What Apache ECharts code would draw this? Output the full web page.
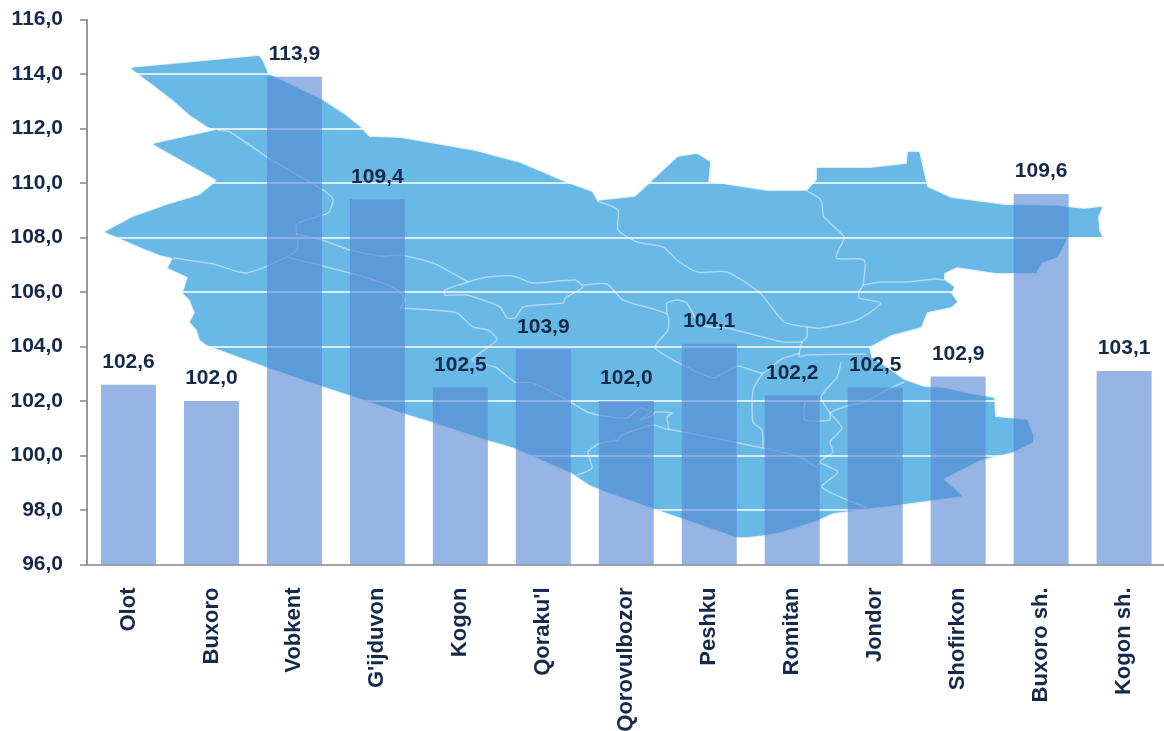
<!DOCTYPE html>
<html>
<head>
<meta charset="utf-8" />
<style>
  html, body { margin: 0; padding: 0; background: #fff; }
  #contenedor-grafico { width: 1164px; height: 731px; }
</style>
<script src="https://cdn.jsdelivr.net/npm/echarts@6/dist/echarts.min.js"></script>
</head>
<body>
<div id="contenedor-grafico"></div>
<script>
const categories = ["Olot", "Buxoro", "Vobkent", "G'ijduvon", "Kogon", "Qoraku'l", "Qorovulbozor", "Peshku", "Romitan", "Jondor", "Shofirkon", "Buxoro sh.", "Kogon sh."];
const values = [102.6, 102.0, 113.9, 109.4, 102.5, 103.9, 102.0, 104.1, 102.2, 102.5, 102.9, 109.6, 103.1];

// backdrop map of the region, in page pixels (decoration, not data)
const mapOutline = [
  [131, 68], [259, 56], [263, 62], [268, 74], [322, 100], [345, 115], [360, 127], [369, 137], [400, 138],
  [475, 151], [520, 163], [567, 183], [592, 192], [597, 201], [635, 197], [678, 157], [697, 154], [710, 162], [708, 182],
  [767, 191], [807, 191], [817, 180], [817, 168], [871, 168], [907, 164], [908, 152], [919, 152], [927, 187],
  [951, 198], [1004, 205], [1057, 206], [1084, 209], [1102, 207], [1098, 217], [1099, 230], [1102, 237],
  [1067, 237], [1064, 245], [1057, 257], [1041, 263], [1036, 273], [997, 273], [957, 267], [944, 273],
  [944, 280], [954, 287], [951, 293], [957, 302], [951, 307], [927, 312], [921, 327], [891, 335], [869, 347],
  [871, 357], [897, 375], [904, 380], [924, 387], [944, 388], [964, 393], [994, 398], [995, 417], [1027, 420],
  [1033, 435], [1033, 442], [1013, 452], [980, 460], [943, 479], [962, 496], [903, 504], [833, 513], [815, 521],
  [780, 532], [765, 535], [747, 537], [737, 537], [682, 518], [653, 508], [607, 492], [590, 485], [572, 473], [515, 448],
  [488, 440], [433, 422], [400, 412], [350, 395], [322, 386], [267, 367], [207, 345], [200, 340], [197, 330],
  [190, 322], [195, 313], [190, 300], [183, 293], [188, 277], [168, 268], [173, 258], [160, 255], [140, 247],
  [117, 237], [105, 232], [133, 217], [167, 205], [200, 195], [212, 185], [217, 180], [153, 144], [217, 130],
  [208, 127], [190, 115], [173, 100]
];
const mapBorders = [
  [[217, 130], [230, 132], [267, 157], [323, 190], [333, 199], [328, 213], [297, 224], [297, 250], [247, 273], [213, 264], [173, 258]],
  [[296, 234], [322, 240], [350, 250], [380, 256], [400, 255], [433, 263], [468, 282]],
  [[468, 282], [445, 290], [445, 295], [467, 295], [500, 307], [507, 318], [515, 318], [523, 307], [563, 303], [565, 298], [583, 287], [575, 280], [533, 283], [513, 276], [487, 277], [468, 282]],
  [[583, 285], [607, 284], [623, 300], [667, 314], [668, 330], [655, 348], [713, 378], [737, 366], [763, 373], [780, 360], [800, 353]],
  [[597, 201], [618, 210], [618, 230], [637, 242], [663, 247], [677, 260], [697, 272], [727, 272], [760, 293], [784, 322], [807, 327], [821, 328], [857, 320], [881, 303], [859, 298], [859, 292], [863, 285], [864, 260], [836, 258], [844, 237], [824, 217], [821, 200], [807, 191]],
  [[863, 285], [881, 282], [907, 282], [934, 279], [944, 280]],
  [[807, 327], [807, 337], [802, 342], [799, 357], [807, 355], [867, 354]],
  [[667, 314], [667, 303], [677, 300], [687, 303], [700, 325], [727, 328], [783, 342], [802, 342]],
  [[841, 362], [837, 377], [821, 397], [830, 413], [842, 428], [830, 442], [833, 452], [820, 462], [838, 472], [822, 487], [867, 508]],
  [[805, 402], [805, 420], [830, 420], [830, 413], [844, 407], [864, 402], [891, 388], [904, 382]],
  [[287, 257], [350, 273], [383, 283], [400, 292], [405, 300], [400, 308]],
  [[400, 308], [433, 310], [457, 313], [473, 327], [488, 330], [497, 340], [472, 360], [495, 367], [515, 382], [533, 383], [567, 400], [590, 413], [627, 418], [640, 408], [650, 412], [640, 420], [653, 415], [655, 412], [672, 413], [667, 417], [668, 429], [653, 425], [622, 435], [617, 440], [600, 443], [588, 452], [592, 468], [577, 475]],
  [[668, 429], [763, 448], [800, 457], [817, 467], [820, 462]],
  [[763, 373], [753, 390], [753, 422], [762, 430], [763, 448]]
];

const colorTexto = "#15294b";
const colorEje = "#868686";

function coma(v) {
  return v.toFixed(1).replace(".", ",");
}

var dom = document.getElementById("contenedor-grafico");
var myChart = echarts.init(dom, null, { renderer: "canvas" });

var graficosMapa = [
  {
    type: "polygon",
    silent: true,
    z: -2,
    shape: { points: mapOutline },
    style: { fill: "#68b9e5", shadowBlur: 2, shadowColor: "#68b9e5" },
  },
];
mapBorders.forEach((linea) => {
  graficosMapa.push({
    type: "polyline",
    silent: true,
    z: -1,
    shape: { points: linea, smooth: 0.2 },
    style: { fill: null, stroke: "rgba(255,255,255,0.45)", lineWidth: 1.5 },
  });
});

var option = {
  animation: false,
  backgroundColor: "#fff",
  graphic: graficosMapa,
  grid: { left: 87, top: 19.5, width: 1078.6, height: 545, outerBoundsMode: "none" },
  xAxis: {
    type: "category",
    data: categories,
    axisLine: { lineStyle: { color: colorEje, width: 1.7 } },
    axisTick: { length: 7, lineStyle: { color: colorEje, width: 1.5 } },
    axisLabel: {
      interval: 0,
      rotate: 90,
      margin: 23,
      color: colorTexto,
      fontFamily: "Liberation Sans",
      fontWeight: "bold",
      fontSize: 22,
    },
  },
  yAxis: {
    type: "value",
    min: 96,
    max: 116,
    interval: 2,
    axisLine: { show: true, lineStyle: { color: colorEje, width: 1.7 } },
    axisTick: { show: true, length: 7, lineStyle: { color: colorEje, width: 1.5 } },
    splitLine: { show: true, lineStyle: { color: "#fff", width: 1.5 } },
    axisLabel: {
      margin: 24,
      padding: [2, 0, 0, 0],
      formatter: (v) => coma(v),
      color: colorTexto,
      fontFamily: "Liberation Sans",
      fontWeight: "bold",
      fontSize: 21,
    },
  },
  series: [
    {
      type: "bar",
      data: values,
      barWidth: 55,
      itemStyle: { color: "rgba(85,135,212,0.62)" },
      label: {
        show: true,
        position: "top",
        distance: 12,
        formatter: (p) => coma(p.value),
        color: colorTexto,
        fontFamily: "Liberation Sans",
        fontWeight: "bold",
        fontSize: 21,
      },
    },
  ],
};

myChart.setOption(option);
window.addEventListener("resize", myChart.resize);
</script>
</body>
</html>
